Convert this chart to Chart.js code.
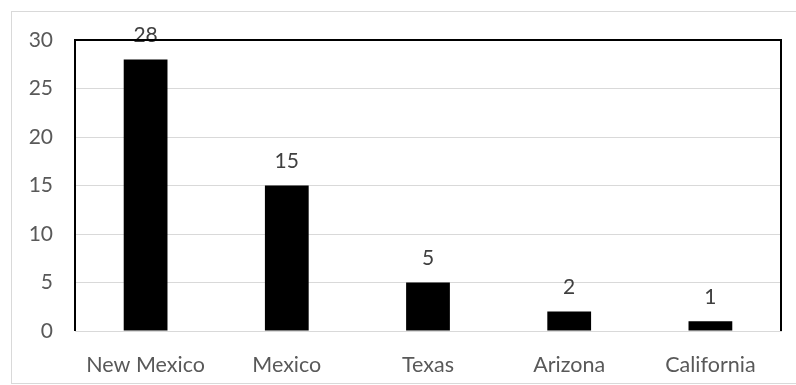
<!DOCTYPE html>
<html>
<head>
<meta charset="utf-8">
<script src="https://cdn.jsdelivr.net/npm/chart.js@4"></script>
<style>
  html, body { margin: 0; padding: 0; background: #fff; }
  #wrap { width: 796px; height: 385px; }
</style>
</head>
<body>
<div id="wrap"><canvas id="states"></canvas></div>
<script>
const labels = ['New Mexico', 'Mexico', 'Texas', 'Arizona', 'California']
const counts = [28, 15, 5, 2, 1]
const yTicks = [0, 5, 10, 15, 20, 25, 30]

const textColor = '#595959'
const fontFamily = 'Lato, "Open Sans", sans-serif'

// frame around the whole figure plus the black box around the plot
const frames = {
    id: 'frames',
    beforeDraw(chart) {
        const ctx = chart.ctx
        ctx.save()
        ctx.strokeStyle = '#d9d9d9'
        ctx.lineWidth = 1
        ctx.strokeRect(11.5, 11.5, 800, 372)
        ctx.restore()
    },
    afterDraw(chart) {
        const a = chart.chartArea
        const ctx = chart.ctx
        ctx.save()
        ctx.strokeStyle = '#000'
        ctx.lineWidth = 2
        ctx.beginPath()
        ctx.moveTo(a.left, a.bottom)
        ctx.lineTo(a.left, a.top)
        ctx.lineTo(a.right, a.top)
        ctx.lineTo(a.right, a.bottom)
        ctx.stroke()
        ctx.restore()
    }
}

// value written above each bar
const barValues = {
    id: 'barValues',
    afterDatasetsDraw(chart) {
        const ctx = chart.ctx
        const meta = chart.getDatasetMeta(0)
        ctx.save()
        ctx.fillStyle = '#404040'
        ctx.font = '21px ' + fontFamily
        ctx.textAlign = 'center'
        ctx.textBaseline = 'bottom'
        meta.data.forEach((bar, i) => {
            ctx.fillText(String(counts[i]), bar.x, bar.y - 14)
        })
        ctx.restore()
    }
}

const config = {
    type: 'bar',
    data: {
        labels: labels,
        datasets: [
            {
                data: counts,
                backgroundColor: '#000',
                borderWidth: 0,
                categoryPercentage: 1,
                barPercentage: 0.31,
            },
        ],
    },
    options: {
        responsive: false,
        animation: false,
        layout: { padding: { left: 0, top: 40, right: 15, bottom: 0 } },
        plugins: { legend: { display: false }, tooltip: { enabled: false } },
        scales: {
            x: {
                grid: { display: false, drawTicks: false },
                border: { display: true, color: '#d9d9d9', width: 1 },
                ticks: { color: textColor, font: { family: fontFamily, size: 21.5 }, padding: 21, maxRotation: 0 },
                afterFit(scale) { scale.height = 54 },
            },
            y: {
                min: 0,
                max: 30,
                afterBuildTicks(scale) { scale.ticks = yTicks.map(v => ({ value: v })) },
                grid: { color: '#d9d9d9', lineWidth: 1, drawTicks: false },
                border: { display: false },
                ticks: { color: textColor, font: { family: fontFamily, size: 21 }, padding: 22 },
                afterFit(scale) { scale.width = 75 },
            },
        },
    },
    plugins: [frames, barValues],
}

const canvas = document.getElementById('states')
canvas.width = 796
canvas.height = 385
const chart = new Chart(canvas, config)
</script>
</body>
</html>
